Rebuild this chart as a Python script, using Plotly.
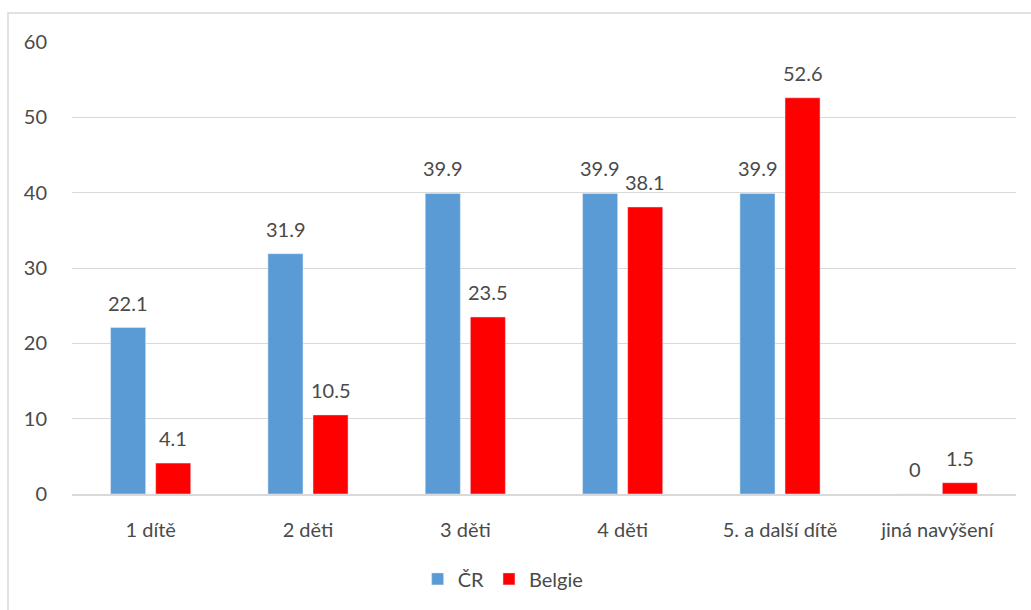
import plotly.graph_objects as go

categories = ["1 dítě", "2 děti", "3 děti", "4 děti", "5. a další dítě", "jiná navýšení"]
cr_values = [22.1, 31.9, 39.9, 39.9, 39.9, 0]
be_values = [4.1, 10.5, 23.5, 38.1, 52.6, 1.5]
y_ticks = [0, 10, 20, 30, 40, 50, 60]

FONT = "Lato, Open Sans, sans-serif"
TXT = "#4a4a4a"
FS = 20

fig = go.Figure()
fig.add_trace(go.Bar(name="ČR", x=categories, y=cr_values, marker_color="#5B9BD5"))
fig.add_trace(go.Bar(name="Belgie", x=categories, y=be_values, marker_color="#FF0000"))

annotations = []
for series, shift in ((cr_values, -22.5), (be_values, 22.5)):
    for cat, val in zip(categories, series):
        annotations.append(dict(
            x=cat, y=val, xref="x", yref="y", text=str(val), showarrow=False,
            xshift=shift, yshift=25, yanchor="middle", xanchor="center",
            font=dict(size=FS, color=TXT, family=FONT),
        ))

fig.update_layout(
    width=1031, height=610,
    margin=dict(l=72, r=15, t=42, b=116, autoexpand=False),
    paper_bgcolor="white", plot_bgcolor="white",
    barmode="group", bargap=0.427, bargroupgap=0.222,
    font=dict(family=FONT, size=FS, color=TXT),
    showlegend=True,
    legend=dict(orientation="h", xref="container", x=0.488, xanchor="center",
                yref="container", y=0.051, yanchor="middle",
                font=dict(size=FS, color=TXT), itemwidth=30, traceorder="normal"),
    xaxis=dict(showgrid=False, showline=True, linecolor="#D9D9D9", linewidth=1.5,
               ticks="outside", ticklen=17, tickcolor="rgba(0,0,0,0)",
               tickfont=dict(size=FS, color=TXT), automargin=False),
    yaxis=dict(range=[0, 60], tickvals=y_ticks, showgrid=True, gridcolor="#D9D9D9",
               gridwidth=1, zeroline=False, showline=False,
               ticks="outside", ticklen=20, tickcolor="rgba(0,0,0,0)",
               tickfont=dict(size=FS, color=TXT), automargin=False),
    annotations=annotations,
    shapes=[dict(type="rect", xref="paper", yref="paper",
                 x0=-64/944, x1=1.05, y0=-0.5, y1=(494-13)/452,
                 line=dict(color="#D9D9D9", width=1.5), fillcolor="rgba(0,0,0,0)", layer="below")],
)

fig.write_html("out.html")
